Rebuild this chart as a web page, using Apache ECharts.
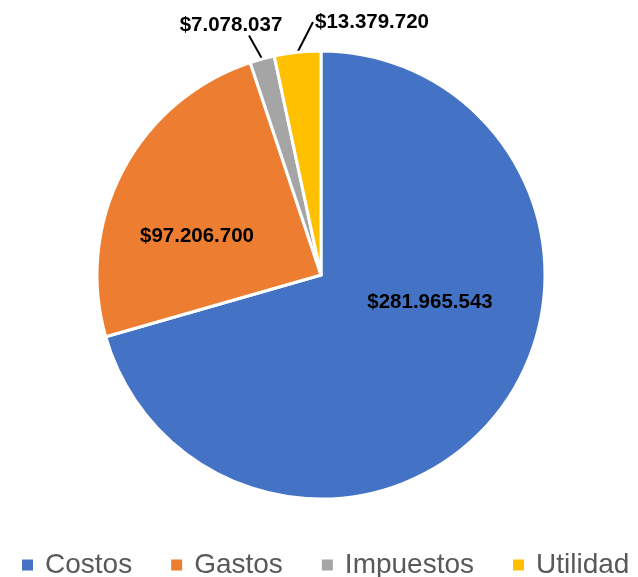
<!DOCTYPE html>
<html>
<head>
<meta charset="utf-8">
<script src="https://cdn.jsdelivr.net/npm/echarts@6/dist/echarts.min.js"></script>
<style>
html,body{margin:0;padding:0;background:#fff;}
#chart{width:638px;height:577px;}
</style>
</head>
<body>
<div id="chart"></div>
<script>
var categories = ['Costos', 'Gastos', 'Impuestos', 'Utilidad'];
var values = [281965543, 97206700, 7078037, 13379720];
var colors = ['#4472C4', '#ED7D31', '#A5A5A5', '#FFC000'];

// label placement: box centre and box padding (padding shifts the leader-line anchor)
var labelPos = [[430, 302], [197, 236], [249, 25], [371, 22]];
var labelPad = [0, 0, [0, 36, 0, 0], [0, 0, 22, 2]];
var insideLabel = [true, true, false, false];

function fmt(v) {
  return '$' + String(v).replace(/\B(?=(\d{3})+(?!\d))/g, '.');
}

var data = categories.map(function (c, i) {
  return {
    name: c,
    value: values[i],
    itemStyle: { color: colors[i] },
    label: { padding: labelPad[i] },
    labelLine: { show: !insideLabel[i] }
  };
});

var chart = echarts.init(document.getElementById('chart'), null, { renderer: 'canvas' });
chart.setOption({
  animation: false,
  legend: {
    top: 551,
    left: 20,
    width: 630,
    padding: 0,
    itemWidth: 13,
    itemHeight: 13,
    itemGap: 37,
    icon: 'rect',
    textStyle: {
      fontFamily: 'Liberation Sans, Arial, sans-serif',
      fontSize: 28,
      color: '#595959',
      padding: [0, 0, 0, 6]
    },
    data: categories
  },
  series: [{
    type: 'pie',
    center: [321, 275],
    radius: 224,
    startAngle: 90,
    clockwise: true,
    data: data,
    itemStyle: { borderColor: '#ffffff', borderWidth: 3 },
    label: {
      show: true,
      position: 'outside',
      overflow: 'none',
      formatter: function (p) { return fmt(p.value); },
      fontFamily: 'Liberation Sans, Arial, sans-serif',
      fontWeight: 'bold',
      fontSize: 20.5,
      lineHeight: 16,
      color: '#000000'
    },
    labelLine: {
      show: true,
      length: 10,
      length2: 0,
      lineStyle: { color: '#000000', width: 2 }
    },
    labelLayout: function (params) {
      var p = labelPos[params.dataIndex];
      return { x: p[0], y: p[1], align: 'center', verticalAlign: 'middle' };
    }
  }]
});
</script>
</body>
</html>
